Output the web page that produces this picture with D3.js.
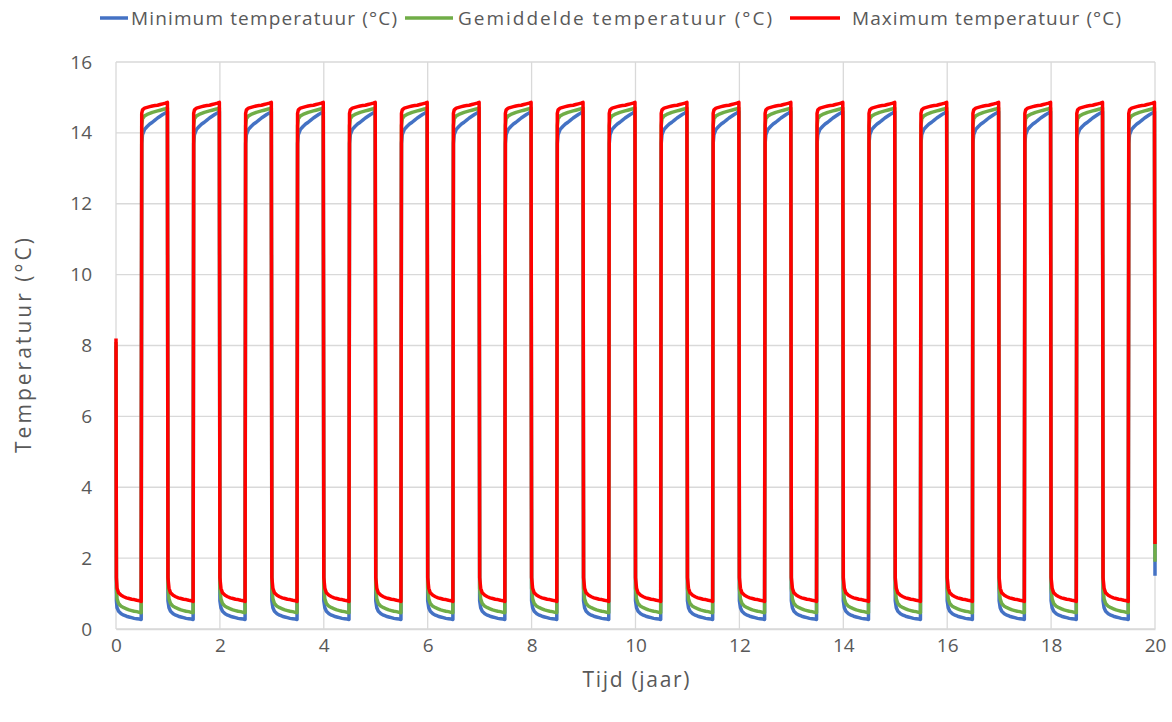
<!DOCTYPE html>
<html>
<head>
<meta charset="utf-8">
<script src="https://cdn.jsdelivr.net/npm/d3@7"></script>
<style>
  body { margin: 0; background: #fff; }
  text { font-family: "Open Sans", "Liberation Sans", sans-serif; fill: #595959; }
</style>
</head>
<body>
<svg id="chart"></svg>
<script>
// one yearly cycle (fraction of year)
const cycleTime = [0, 0.02, 0.05, 0.1, 0.15, 0.2, 0.25, 0.3, 0.35, 0.4, 0.45, 0.485,
                   0.495, 0.51, 0.55, 0.6, 0.65, 0.7, 0.75, 0.8, 0.85, 0.9, 0.95, 0.99];
const cycleMin = [0.8, 0.6, 0.5, 0.43, 0.39, 0.36, 0.34, 0.32, 0.3, 0.29, 0.28, 0.27,
                  13.7, 13.95, 14.1, 14.18, 14.25, 14.3, 14.36, 14.42, 14.47, 14.52, 14.56, 14.6];
const cycleMean = [1.15, 0.85, 0.72, 0.64, 0.6, 0.57, 0.54, 0.52, 0.5, 0.49, 0.47, 0.46,
                   14.2, 14.4, 14.48, 14.52, 14.55, 14.58, 14.6, 14.62, 14.64, 14.66, 14.68, 14.7];
const cycleMax = [1.45, 1.15, 1.02, 0.95, 0.91, 0.88, 0.86, 0.84, 0.83, 0.81, 0.8, 0.78,
                  14.55, 14.65, 14.7, 14.72, 14.74, 14.76, 14.77, 14.78, 14.8, 14.82, 14.84, 14.86];
const years = d3.range(0, 20);
// start and end values
const startValues = {min: 8.0, mean: 8.1, max: 8.2};
const endValues = {min: 1.5, mean: 1.9, max: 2.4};

const seriesNames = ['Minimum temperatuur (°C)', 'Gemiddelde temperatuur (°C)', 'Maximum temperatuur (°C)'];
const seriesColors = ['#4472C4', '#70AD47', '#FF0000'];
const xTicks = d3.range(0, 21, 2);
const yTicks = d3.range(0, 17, 2);

function buildSeries(cycle, start, end) {
  const pts = [{t: 0, v: start}];
  years.forEach(y => {
    cycle.forEach((v, i) => {
      const t = y + cycleTime[i] + (y === 0 && i === 0 ? 0.008 : 0);
      pts.push({t: t, v: v});
    });
  });
  pts.push({t: 20, v: end});
  return pts;
}

const data = [
  buildSeries(cycleMin, startValues.min, endValues.min),
  buildSeries(cycleMean, startValues.mean, endValues.mean),
  buildSeries(cycleMax, startValues.max, endValues.max)
];

const W = 1172, H = 722;
const margin = {top: 62, right: 17, bottom: 93, left: 116};
const svg = d3.select('#chart').attr('width', W).attr('height', H);

const x = d3.scaleLinear().domain([0, 20]).range([margin.left, W - margin.right]);
const y = d3.scaleLinear().domain([0, 16]).range([H - margin.bottom, margin.top]);

// gridlines
svg.append('g').selectAll('line.h').data(yTicks).enter().append('line')
  .attr('x1', x(0)).attr('x2', x(20))
  .attr('y1', d => y(d)).attr('y2', d => y(d))
  .attr('stroke', '#d9d9d9').attr('stroke-width', 1.3);
svg.append('g').selectAll('line.v').data(xTicks).enter().append('line')
  .attr('y1', y(0)).attr('y2', y(16))
  .attr('x1', d => x(d)).attr('x2', d => x(d))
  .attr('stroke', '#d9d9d9').attr('stroke-width', 1.3);

// axes labels
const yAxis = d3.axisLeft(y).tickValues(yTicks).tickSize(0).tickPadding(24);
const gy = svg.append('g').attr('transform', `translate(${margin.left},0)`).call(yAxis);
gy.select('.domain').remove();
gy.selectAll('text').style('font-size', '19px').attr('fill', '#595959');

const xAxis = d3.axisBottom(x).tickValues(xTicks).tickSize(0).tickPadding(10);
const gx = svg.append('g').attr('transform', `translate(0,${y(0)})`).call(xAxis);
gx.select('.domain').attr('stroke', '#d9d9d9').attr('stroke-width', 1.3);
gx.selectAll('text').style('font-size', '19px').attr('fill', '#595959');

// series lines
const line = d3.line().x(d => x(d.t)).y(d => y(d.v));
svg.append('g').selectAll('path').data(data).enter().append('path')
  .attr('d', line)
  .attr('fill', 'none')
  .attr('stroke', (d, i) => seriesColors[i])
  .attr('stroke-width', 3.5)
  .attr('stroke-linejoin', 'round');

// axis titles
svg.append('text').attr('x', 636).attr('y', 687)
  .attr('text-anchor', 'middle').style('font-size', '21px')
  .attr('textLength', 107).attr('lengthAdjust', 'spacing').text('Tijd (jaar)');
svg.append('text').attr('transform', `translate(31,${(y(0) + y(16)) / 2}) rotate(-90)`)
  .attr('text-anchor', 'middle').style('font-size', '21px')
  .attr('textLength', 215).attr('lengthAdjust', 'spacing').text('Temperatuur (°C)');

// legend
const legendX = [100, 405, 790];
const legendLineLen = [28, 48, 50];
const legendTextLen = [266, 314, 269];
const lg = svg.append('g').selectAll('g').data(seriesNames).enter().append('g')
  .attr('transform', (d, i) => `translate(${legendX[i]},18)`);
lg.append('line').attr('x1', 0).attr('x2', (d, i) => legendLineLen[i])
  .attr('stroke', (d, i) => seriesColors[i]).attr('stroke-width', 3.5);
lg.append('text').attr('x', (d, i) => legendLineLen[i] + (i === 0 ? 3 : i === 1 ? 5 : 12)).attr('y', 7)
  .style('font-size', '19px')
  .attr('textLength', (d, i) => legendTextLen[i]).attr('lengthAdjust', 'spacing')
  .text(d => d);
</script>
</body>
</html>
